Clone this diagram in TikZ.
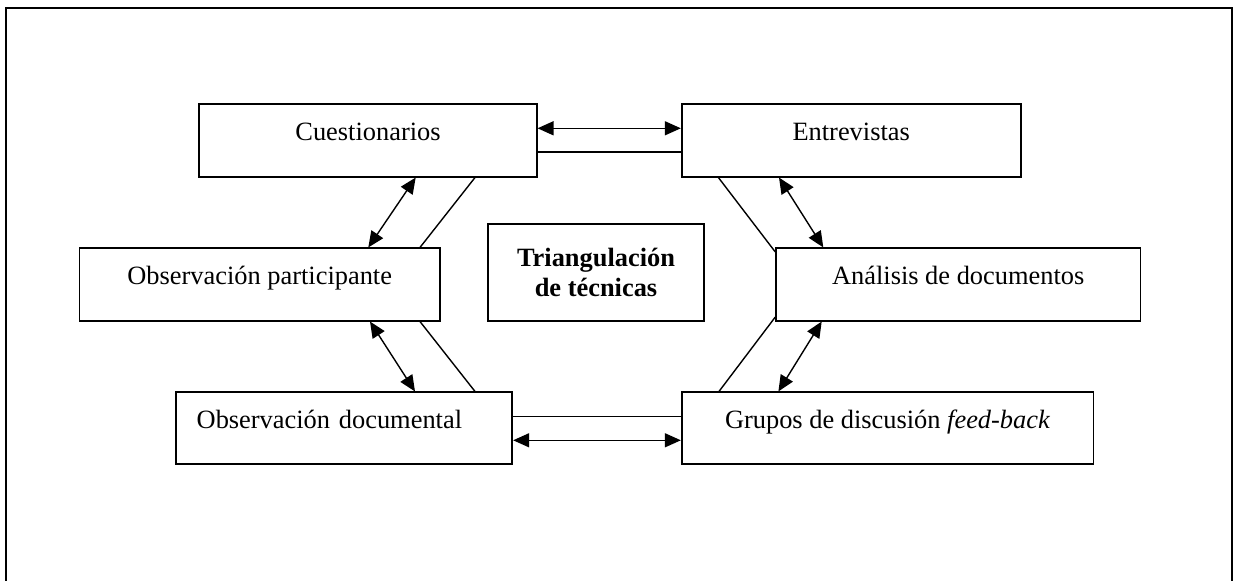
\documentclass[tikz,border=0pt]{standalone}
\usepackage{fontspec}
\setmainfont{Liberation Serif}
\usetikzlibrary{arrows.meta}
\usetikzlibrary{positioning}

\begin{document}
\begin{tikzpicture}[x=0.5pt, y=-0.5pt,
 squarednode/.style={rectangle, draw=black, line width=0.85pt, inner sep=0pt, minimum height=36.2pt, font=\fontsize{13.2}{15}\selectfont},
 onelinenode/.style={squarednode, text height=5pt, text depth=5pt},
 twoway/.style={{Triangle[length=8pt,width=7pt]}-{Triangle[length=8pt,width=7pt]}, line width=0.7pt},
 plainline/.style={line width=0.7pt},
 ]
 \useasboundingbox (0,0) rectangle (1238,581);
 %Frame
 \draw[line width=1pt] (6,581) -- (6,8) -- (1232,8) -- (1232,581);

 %Nodes
 \node[onelinenode, minimum width=168.7pt] (cuestionarios_node) at (368,140.5) {Cuestionarios};
 \node[onelinenode, minimum width=169.5pt] (entrevistas_node) [right=71.65pt of cuestionarios_node] {Entrevistas};
 \node[onelinenode, minimum width=180.35pt] (participante_node) at (259.7,284.5) {Observación participante};
 \node[squarednode, minimum width=108.3pt, minimum height=48.2pt, align=center,
       font=\fontsize{13.2}{15}\selectfont\bfseries] (triangulacion_node) at (596,272.5) {Triangulación\\de técnicas};
 \node[onelinenode, minimum width=182.15pt] (analisis_node) at (958.2,284.5) {Análisis de documentos};
 \node[onelinenode, minimum height=36pt, text width=147.3pt, inner xsep=10.5pt, align=left] (documental_node) at (344,428.3) {Observación documental};
 \node[onelinenode, minimum width=205.9pt, minimum height=36pt] (grupos_node) [right=83.85pt of documental_node] {Grupos de discusión \textit{feed-back}};

 %Lines
 \draw[twoway] ([yshift=6.1pt]cuestionarios_node.east) -- ([yshift=6.1pt]entrevistas_node.west);
 \draw[plainline] ([yshift=-5.75pt]cuestionarios_node.east) -- ([yshift=-5.75pt]entrevistas_node.west);
 \draw[plainline] ([yshift=5.8pt]documental_node.east) -- ([yshift=5.8pt]grupos_node.west);
 \draw[twoway] ([yshift=-6pt]documental_node.east) -- ([yshift=-6pt]grupos_node.west);

 \draw[twoway] ([xshift=23.85pt]cuestionarios_node.south) -- ([xshift=54.3pt]participante_node.north);
 \draw[plainline] ([xshift=53.5pt]cuestionarios_node.south) -- ([xshift=80.15pt]participante_node.north);
 \draw[twoway] ([xshift=55.15pt]participante_node.south) -- ([xshift=35.5pt]documental_node.north);
 \draw[plainline] ([xshift=80.15pt]participante_node.south) -- ([xshift=65.5pt]documental_node.north);

 \draw[twoway] ([xshift=-36.1pt]entrevistas_node.south) -- ([xshift=-67.45pt]analisis_node.north);
 \draw[plainline] ([xshift=-66.4pt]entrevistas_node.south) -- ([yshift=-2.2pt]analisis_node.north west);
 \draw[twoway] ([xshift=-68.25pt]analisis_node.south) -- ([xshift=-54.6pt]grupos_node.north);
 \draw[plainline] ([yshift=2.2pt]analisis_node.south west) -- ([xshift=-84.3pt]grupos_node.north);
\end{tikzpicture}
\end{document}
